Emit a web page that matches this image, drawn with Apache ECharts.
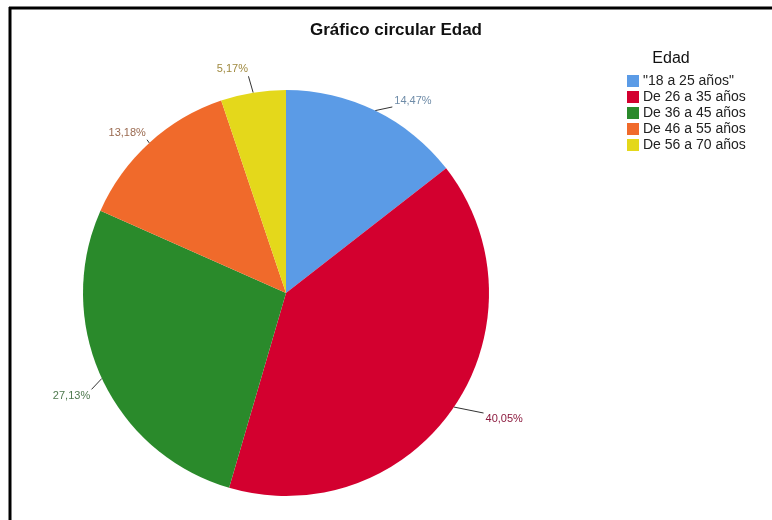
<!DOCTYPE html>
<html>
<head>
<meta charset="utf-8">
<script src="https://cdn.jsdelivr.net/npm/echarts@6/dist/echarts.min.js"></script>
<style>
  html, body { margin: 0; padding: 0; background: #fff; }
  #chart { width: 772px; height: 520px; }
</style>
</head>
<body>
<div id="chart"></div>
<script>
// Age distribution (percent of respondents)
var categories = ['"18 a 25 años"', 'De 26 a 35 años', 'De 36 a 45 años', 'De 46 a 55 años', 'De 56 a 70 años'];
var values = [14.47, 40.05, 27.13, 13.18, 5.17];

// Styling
var sliceColors = ['#5b9be6', '#d3002f', '#2a8a2b', '#f06a2b', '#e4d81b'];
var labelColors = ['#6f8ca8', '#8c1a3e', '#4f7a4f', '#9a6a50', '#a08a40'];
// nudge for each percentage label, relative to its default outside spot
var labelNudge = [[8, 3], [15, 4], [6, 12], [11, 0], [2, -10]];

var chart = echarts.init(document.getElementById('chart'), null, { renderer: 'canvas' });

var data = categories.map(function (name, i) {
  return {
    name: name,
    value: values[i],
    itemStyle: { color: sliceColors[i] },
    label: { color: labelColors[i] }
  };
});

// Leader line: from the slice edge to the closest point of the moved label box
function leaderTo(p0, rect, gap) {
  var cx = Math.max(rect.x, Math.min(p0[0], rect.x + rect.width));
  var cy = Math.max(rect.y, Math.min(p0[1], rect.y + rect.height));
  var vx = cx - p0[0], vy = cy - p0[1];
  var len = Math.sqrt(vx * vx + vy * vy) || 1;
  var k = Math.max(0, (len - gap) / len);
  return [p0[0] + vx * k, p0[1] + vy * k];
}

chart.setOption({
  backgroundColor: '#ffffff',
  animation: false,
  title: [
    {
      text: 'Gráfico circular Edad',
      left: 391, top: 17, textAlign: 'center',
      textStyle: { fontFamily: 'Liberation Sans', fontSize: 17, fontWeight: 'bold', color: '#111' }
    },
    {
      text: 'Edad',
      left: 666, top: 46, textAlign: 'center',
      textStyle: { fontFamily: 'Liberation Sans', fontSize: 16, fontWeight: 'normal', color: '#111' }
    }
  ],
  legend: {
    orient: 'vertical',
    left: 622, top: 69,
    icon: 'rect',
    itemWidth: 12, itemHeight: 12, itemGap: 2,
    textStyle: { fontFamily: 'Liberation Sans', fontSize: 14, color: '#222', padding: [0, 0, 0, -1] },
    data: categories
  },
  graphic: [
    { type: 'line', shape: { x1: 9, y1: 8, x2: 772, y2: 8 }, style: { stroke: '#000', lineWidth: 3 } },
    { type: 'line', shape: { x1: 10, y1: 7, x2: 10, y2: 520 }, style: { stroke: '#000', lineWidth: 3 } }
  ],
  series: [{
    type: 'pie',
    center: [286, 293],
    radius: 203,
    startAngle: 90,
    clockwise: true,
    data: data,
    label: {
      show: true,
      position: 'outside',
      fontFamily: 'Liberation Sans',
      fontSize: 11,
      formatter: function (p) { return p.value.toFixed(2).replace('.', ',') + '%'; }
    },
    labelLine: {
      show: true,
      length: 14,
      length2: 0,
      lineStyle: { color: '#333', width: 1 }
    },
    labelLayout: function (params) {
      var n = labelNudge[params.dataIndex];
      var r = params.labelRect;
      var moved = { x: r.x + n[0], y: r.y + n[1], width: r.width, height: r.height };
      var pts = params.labelLinePoints;
      var p0 = pts[0];
      var end = leaderTo(p0, moved, 2);
      return { dx: n[0], dy: n[1], labelLinePoints: [p0, end, end] };
    },
    itemStyle: { borderWidth: 0 },
    emphasis: { disabled: true }
  }]
});
</script>
</body>
</html>
